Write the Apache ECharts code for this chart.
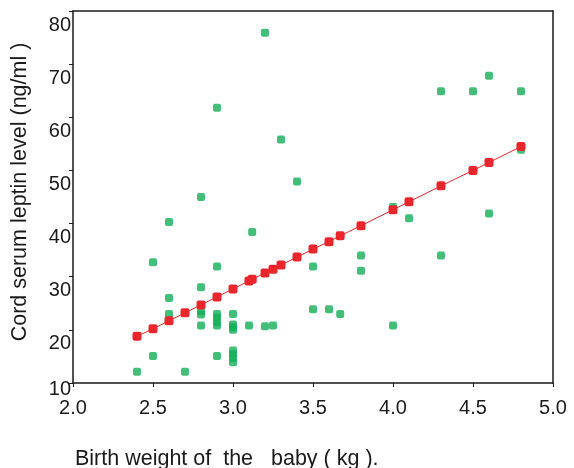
<!DOCTYPE html>
<html>
<head>
<meta charset="utf-8">
<script src="https://cdn.jsdelivr.net/npm/echarts@6/dist/echarts.min.js"></script>
<style>html,body{margin:0;padding:0;background:#fff}#c{width:574px;height:468px}</style>
</head>
<body>
<div id="c"></div>
<script>
// Observed points: birth weight (kg) and cord serum leptin (ng/ml)
const obsWeight = [3.2, 2.9, 3.3, 3.4, 2.8, 2.6, 3.12, 2.5, 2.9, 3.5, 2.8, 2.6, 3.5, 2.6, 2.8, 2.8, 2.9, 2.9, 2.9, 2.9, 3.0, 2.8, 3.0, 3.0, 3.0, 3.1, 3.2, 3.25, 2.5, 2.9, 3.0, 3.0, 3.0, 3.0, 2.4, 2.7, 4.6, 4.1, 3.8, 4.3, 3.8, 3.6, 3.67, 4.0, 4.0, 4.6, 4.3, 4.5, 4.8, 4.8];
const obsLeptin = [75.9, 61.8, 55.8, 47.9, 45.0, 40.3, 38.4, 32.7, 31.9, 31.9, 28.0, 26.0, 23.9, 23.0, 23.5, 22.9, 23.0, 22.3, 21.5, 20.8, 23.0, 20.8, 21.0, 20.5, 20.0, 20.8, 20.7, 20.8, 15.1, 15.1, 16.1, 15.4, 14.7, 13.9, 12.1, 12.1, 41.9, 41.0, 34.0, 34.0, 31.1, 23.9, 23.0, 20.8, 43.1, 67.8, 64.9, 64.9, 64.9, 53.9];
// Fitted (predicted) values
const fitWeight = [2.4, 2.5, 2.6, 2.7, 2.8, 2.9, 3.0, 3.1, 3.12, 3.2, 3.25, 3.3, 3.4, 3.5, 3.6, 3.67, 3.8, 4.0, 4.1, 4.3, 4.5, 4.6, 4.8];
const fitLeptin = [18.8, 20.2, 21.7, 23.2, 24.7, 26.2, 27.7, 29.2, 29.5, 30.7, 31.4, 32.2, 33.7, 35.2, 36.6, 37.7, 39.6, 42.6, 44.1, 47.1, 50.0, 51.5, 54.5];
const xTicks = {min: 2.0, max: 5.0, interval: 0.5};
const yTicks = {min: 10, max: 80, interval: 10};
const yTitle = 'Cord serum leptin level (ng/ml )';
const xTitle = 'Birth weight of  the   baby ( kg ).';

const obs = obsWeight.map((w, i) => [w, obsLeptin[i]]);
const fit = fitWeight.map((w, i) => [w, fitLeptin[i]]);
const font = 'Liberation Sans, Arial, sans-serif';

const chart = echarts.init(document.getElementById('c'), null, {renderer: 'canvas'});
chart.setOption({
  animation: false,
  backgroundColor: '#ffffff',
  title: {
    text: xTitle, left: 70, top: 443,
    textStyle: {fontFamily: font, fontSize: 21.5, fontWeight: 'normal', color: '#1a1a1a'}
  },
  grid: {left: 73, right: 21, top: 11, bottom: 85},
  xAxis: [{
    type: 'value', min: xTicks.min, max: xTicks.max, interval: xTicks.interval,
    axisLine: {show: true, lineStyle: {color: '#1a1a1a', width: 1.5}},
    axisTick: {show: true, length: 4, lineStyle: {color: '#1a1a1a'}},
    splitLine: {show: false},
    axisLabel: {
      margin: 15, color: '#1a1a1a', fontFamily: font, fontSize: 20,
      formatter: v => v.toFixed(1)
    }
  }, {
    type: 'value', position: 'top', min: xTicks.min, max: xTicks.max,
    axisLine: {show: true, onZero: false, lineStyle: {color: '#1a1a1a', width: 1.5}},
    axisTick: {show: false}, axisLabel: {show: false}, splitLine: {show: false}
  }],
  yAxis: [{
    type: 'value', min: yTicks.min, max: yTicks.max, interval: yTicks.interval,
    name: yTitle, nameLocation: 'middle', nameGap: 42,
    nameTextStyle: {fontFamily: font, fontSize: 21.5, color: '#1a1a1a', padding: [0, 0, 0, 10]},
    axisLine: {show: true, lineStyle: {color: '#1a1a1a', width: 1.5}},
    axisTick: {show: true, length: 4, lineStyle: {color: '#1a1a1a'}},
    splitLine: {show: false},
    axisLabel: {
      margin: 2, color: '#1a1a1a', fontFamily: font, fontSize: 20,
      formatter: v => v === yTicks.min ? '{b|' + v + '}' : '{a|' + v + '}',
      rich: {
        a: {fontFamily: font, fontSize: 20, color: '#1a1a1a', padding: [28, 0, 0, 0]},
        b: {fontFamily: font, fontSize: 20, color: '#1a1a1a', padding: [12, 0, 0, 0]}
      }
    }
  }, {
    type: 'value', position: 'right', min: yTicks.min, max: yTicks.max,
    axisLine: {show: true, onZero: false, lineStyle: {color: '#1a1a1a', width: 1.5}},
    axisTick: {show: false}, axisLabel: {show: false}, splitLine: {show: false}
  }],
  series: [{
    type: 'scatter', data: obs, symbol: 'roundRect', symbolSize: 8,
    itemStyle: {color: '#14ae56'}
  }, {
    type: 'line', data: fit, symbol: 'roundRect', symbolSize: 9, showSymbol: true,
    lineStyle: {color: '#e8262c', width: 1},
    itemStyle: {color: '#e8262c'}
  }]
});
</script>
</body>
</html>
